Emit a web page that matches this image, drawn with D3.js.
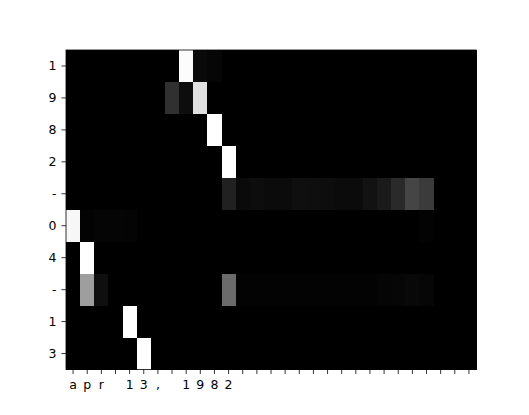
<!DOCTYPE html>
<html>
<head>
<meta charset="utf-8">
<script src="https://cdn.jsdelivr.net/npm/d3@7"></script>
<style>
  body { margin: 0; background: #fff; }
  text { font-family: "DejaVu Sans", sans-serif; }
</style>
</head>
<body>
<svg id="chart" width="529" height="415"></svg>
<script>
// input characters (x) and output characters (y)
var inputChars = ["a","p","r"," ","1","3",","," ","1","9","8","2",
  " "," "," "," "," "," "," "," "," "," "," "," "," "," "," "," "," "];
var outputChars = ["1","9","8","2","-","0","4","-","1","3"];

// attention weights, one row per output char, one value per input char
var z = 0;
var w0 = [z,z,z,z,z,z,z,z,0.99,0.04,0.025,z,z,z,z,z,z,z,z,z,z,z,z,z,z,z,z,z,z];
var w1 = [z,z,z,z,z,z,z,0.19,0.05,0.88,z,z,z,z,z,z,z,z,z,z,z,z,z,z,z,z,z,z,z];
var w2 = [z,z,z,z,z,z,z,z,z,z,1.0,z,z,z,z,z,z,z,z,z,z,z,z,z,z,z,z,z,z];
var w3 = [z,z,z,z,z,z,z,z,z,z,z,1.0,z,z,z,z,z,z,z,z,z,z,z,z,z,z,z,z,z];
var w4 = [z,z,z,z,z,z,z,z,z,z,z,0.13,0.04,0.05,0.045,0.045,0.06,0.055,0.05,0.045,0.045,0.07,0.1,0.165,0.27,0.23,z,z,z];
var w5 = [0.97,0.01,0.02,0.02,0.015,z,z,z,z,z,z,z,z,z,z,z,z,z,z,z,z,z,z,z,z,0.01,z,z,z];
var w6 = [z,1.0,z,z,z,z,z,z,z,z,z,z,z,z,z,z,z,z,z,z,z,z,z,z,z,z,z,z,z];
var w7 = [z,0.62,0.06,z,z,z,z,z,z,z,z,0.42,0.01,0.01,0.01,0.01,0.01,0.01,0.01,0.01,0.01,0.012,0.018,0.022,0.03,0.025,z,z,z];
var w8 = [z,z,z,z,1.0,z,z,z,z,z,z,z,z,z,z,z,z,z,z,z,z,z,z,z,z,z,z,z,z];
var w9 = [z,z,z,z,z,1.0,z,z,z,z,z,z,z,z,z,z,z,z,z,z,z,z,z,z,z,z,z,z,z];
var weights = [w0,w1,w2,w3,w4,w5,w6,w7,w8,w9];

var svg = d3.select("#chart");
var plotLeft = 66, plotRight = 476, plotTop = 50, plotBottom = 369.5;

var x = d3.scaleBand().domain(d3.range(inputChars.length)).range([plotLeft, plotRight]);
var y = d3.scaleBand().domain(d3.range(outputChars.length)).range([plotTop, plotBottom]);
var color = d3.scaleSequential(d3.interpolateRgb("#000", "#fff")).domain([0, 1]);

var cells = [];
weights.forEach(function(row, i) {
  row.forEach(function(v, j) { cells.push({i: i, j: j, v: v}); });
});

svg.append("g")
  .selectAll("rect")
  .data(cells)
  .join("rect")
  .attr("x", function(d) { return x(d.j); })
  .attr("y", function(d) { return y(d.i); })
  .attr("width", x.bandwidth() + 0.5)
  .attr("height", y.bandwidth() + 0.5)
  .attr("fill", function(d) { return color(d.v); })
  .attr("shape-rendering", "crispEdges");

// axes
var xAxis = d3.axisBottom(x).tickSize(4.5).tickPadding(6.5)
  .tickFormat(function(d) { return inputChars[d]; });
var yAxis = d3.axisLeft(y).tickSize(4.5).tickPadding(5)
  .tickFormat(function(d) { return outputChars[d]; });

var gx = svg.append("g").attr("transform", "translate(0," + plotBottom + ")").call(xAxis);
var gy = svg.append("g").attr("transform", "translate(" + plotLeft + ",0)").call(yAxis);

[gx, gy].forEach(function(g) {
  g.select(".domain").remove();
  g.selectAll("text").attr("font-size", 12.5).attr("fill", "#000")
    .style("font-family", "DejaVu Sans");
  g.selectAll("line").attr("stroke", "#000").attr("stroke-width", 0.8);
});

svg.append("rect")
  .attr("x", plotLeft).attr("y", plotTop)
  .attr("width", plotRight - plotLeft).attr("height", plotBottom - plotTop)
  .attr("fill", "none").attr("stroke", "#000").attr("stroke-width", 0.8);
</script>
</body>
</html>
